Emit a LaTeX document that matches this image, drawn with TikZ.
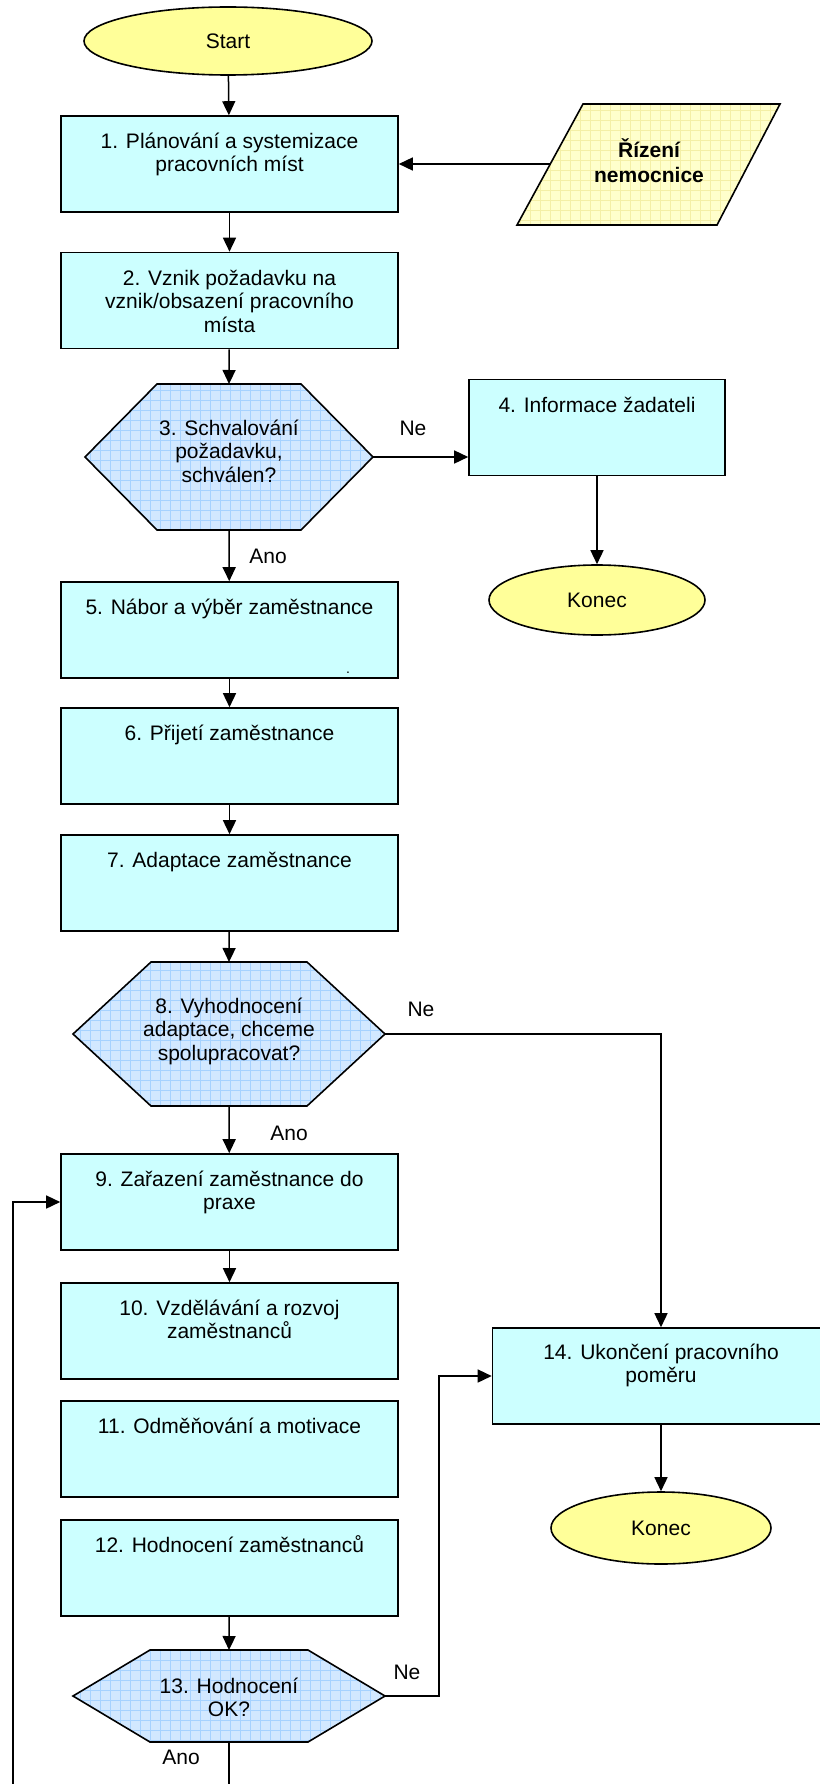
\documentclass[tikz,border=0pt]{standalone}
\usepackage{fontspec}
\setmainfont{Liberation Sans}
\usetikzlibrary{arrows.meta,shapes.geometric}
\definecolor{boxfill}{HTML}{CCFFFF}
\definecolor{termfill}{HTML}{FFFF99}
\definecolor{hexfill}{HTML}{D2E8FF}
\definecolor{hexgrid}{HTML}{A6D2FF}
\definecolor{parfill}{HTML}{FFFFCC}
\definecolor{pargrid}{HTML}{F4EFA6}
% strut that fixes the height of the first text line
\newcommand\Tstr{\rule{0pt}{20pt}}
% decision hexagon drawn around an invisible frame node: #1 = node, #2 = chamfer
\newcommand\hexdraw[2]{%
  \begin{scope}
    \clip (#1.west) -- ([xshift=#2]#1.north west) -- ([xshift=-#2]#1.north east)
      -- (#1.east) -- ([xshift=-#2]#1.south east) -- ([xshift=#2]#1.south west) -- cycle;
    \fill[hexfill] (#1.south west) rectangle (#1.north east);
    \draw[hexgrid, line width=0.7pt, step=10pt] (#1.south west) grid (#1.north east);
  \end{scope}
  \draw[line width=1.6pt] (#1.west) -- ([xshift=#2]#1.north west) -- ([xshift=-#2]#1.north east)
    -- (#1.east) -- ([xshift=-#2]#1.south east) -- ([xshift=#2]#1.south west) -- cycle;}
\begin{document}
\begin{tikzpicture}[x=1pt,y=-1pt,
  font=\fontsize{21}{23.5}\selectfont,
  stepbox/.style={draw, line width=1.6pt, fill=boxfill, minimum width=337pt,
    minimum height=96pt, inner sep=0pt},
  term/.style={ellipse, draw, line width=1.6pt, fill=termfill, inner sep=0pt},
  frame/.style={rectangle, inner sep=0pt, outer sep=0pt},
  txt/.style={anchor=north, inner sep=0pt, align=center},
  lbl/.style={inner sep=0pt},
  conn/.style={line width=1.5pt, -{Triangle[length=14pt,width=13pt]}},
  plain/.style={line width=1.5pt}]
\useasboundingbox (0,0) rectangle (819,1784);

% terminals
\node[term, minimum width=288pt, minimum height=68pt] (start) at (228,41) {Start};
\node[term, minimum width=216pt, minimum height=70pt] (k1) at (597,600) {Konec};
\node[term, minimum width=220pt, minimum height=72pt] (k2) at (661,1528) {Konec};

% process boxes
\node[stepbox] (b1) at (229.5,164) {};
\node[stepbox] (b2) at (229.5,300.5) {};
\node[stepbox, minimum width=256pt] (b4) at (597,427.5) {};
\node[stepbox] (b5) at (229.5,630) {};
\node[stepbox] (b6) at (229.5,756) {};
\node[stepbox] (b7) at (229.5,883) {};
\node[stepbox] (b9) at (229.5,1202) {};
\node[stepbox] (b10) at (229.5,1331) {};
\node[stepbox] (b11) at (229.5,1449) {};
\node[stepbox] (b12) at (229.5,1568) {};
\node[stepbox] (b14) at (661,1376) {};

% decisions
\node[frame, minimum width=288pt, minimum height=146pt] (h3) at (229,457) {};
\node[frame, minimum width=312pt, minimum height=144pt] (h8) at (229,1034) {};
\node[frame, minimum width=312pt, minimum height=92pt] (h13) at (229,1696) {};
\hexdraw{h3}{72}
\hexdraw{h8}{78}
\hexdraw{h13}{77}

% management input (parallelogram)
\coordinate (p1) at (583,104);
\coordinate (p2) at (780,104);
\coordinate (p3) at (717,225);
\coordinate (p4) at (517,225);
\coordinate (pin) at (550.3,164);
\begin{scope}
  \clip (p1) -- (p2) -- (p3) -- (p4) -- cycle;
  \fill[parfill] (p4) rectangle (p2);
  \draw[pargrid, line width=0.7pt, step=10pt] (510,100) grid (790,230);
\end{scope}
\draw[line width=1.6pt] (p1) -- (p2) -- (p3) -- (p4) -- cycle;
\node[txt, font=\fontsize{21}{25}\selectfont\bfseries] (rz) at (649,137) {\Tstr Řízení\\nemocnice};

% texts
\node[txt] (t1) at (229.5,128) {\Tstr 1. Plánování a systemizace\\pracovních míst};
\node[txt] (t2) at (229.5,265) {\Tstr 2. Vznik požadavku na\\vznik/obsazení pracovního\\místa};
\node[txt] (t3) at (229,415) {\Tstr 3. Schvalování\\požadavku,\\schválen?};
\node[txt] (t4) at (597,392) {\Tstr 4. Informace žadateli};
\node[txt] (t5) at (229.5,594) {\Tstr 5. Nábor a výběr zaměstnance};
\node[anchor=base, inner sep=0pt, font=\fontsize{14}{14}\selectfont] (dot) at (348,673) {.};
\node[txt] (t6) at (229.5,720) {\Tstr 6. Přijetí zaměstnance};
\node[txt] (t7) at (229.5,847) {\Tstr 7. Adaptace zaměstnance};
\node[txt] (t8) at (229,993) {\Tstr 8. Vyhodnocení\\adaptace, chceme\\spolupracovat?};
\node[txt] (t9) at (229.5,1166) {\Tstr 9. Zařazení zaměstnance do\\praxe};
\node[txt] (t10) at (229.5,1295) {\Tstr 10. Vzdělávání a rozvoj\\zaměstnanců};
\node[txt] (t11) at (229.5,1413) {\Tstr 11. Odměňování a motivace};
\node[txt] (t12) at (229.5,1532) {\Tstr 12. Hodnocení zaměstnanců};
\node[txt] (t13) at (229,1673) {\Tstr 13. Hodnocení\\OK?};
\node[txt] (t14) at (661,1339) {\Tstr 14. Ukončení pracovního\\poměru};

% branch labels
\node[lbl] (ano3) at (268,556) {Ano};
\node[lbl] (ne3) at (413,428) {Ne};
\node[lbl] (ano8) at (289,1133) {Ano};
\node[lbl] (ne8) at (421,1009) {Ne};
\node[lbl] (ne13) at (407,1672) {Ne};
\node[lbl] (ano13) at (181,1757) {Ano};

% connectors
\draw[conn] (start) -- (b1);
\draw[conn] (pin) -- (b1.east |- pin);
\draw[conn] (b1) -- (b2);
\draw[conn] (b2) -- (h3.north);
\draw[conn] (h3.south) -- (b5);
\draw[conn] (h3.east) -- (h3.east -| b4.west);
\draw[conn] (b4) -- (k1);
\draw[conn] (b5) -- (b6);
\draw[conn] (b6) -- (b7);
\draw[conn] (b7) -- (h8.north);
\draw[conn] (h8.south) -- (b9);
\draw[conn] (h8.east) -| (b14.north);
\draw[conn] (b9) -- (b10);
\draw[conn] (b12) -- (h13.north);
\coordinate (nebend) at (439,1696);
\draw[conn] (h13.east) -- (nebend) |- (b14.west);
\draw[conn] (b14) -- (k2);
\coordinate (downend) at (229,1788);
\coordinate (loopend) at (13,1788);
\draw[plain] (h13.south) -- (downend);
\draw[conn] (loopend) |- (b9.west);
\end{tikzpicture}
\end{document}
